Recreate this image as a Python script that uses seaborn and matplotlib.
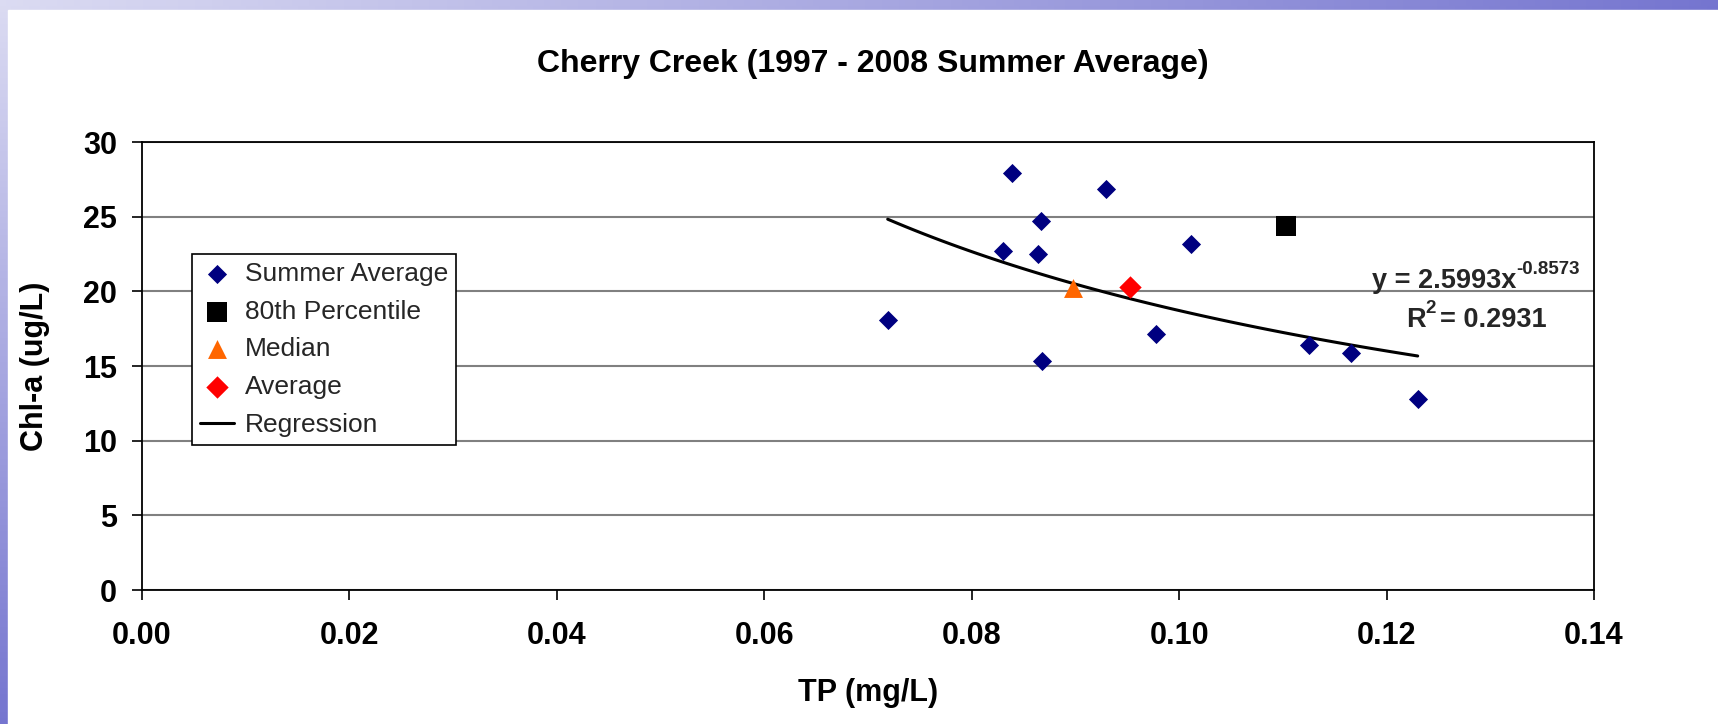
import numpy as np
import pandas as pd
import matplotlib
matplotlib.use("Agg")
import matplotlib.pyplot as plt
import seaborn as sns
from matplotlib.patches import Rectangle

# ---------------- data ----------------
title = "Cherry Creek (1997 - 2008 Summer Average)"
x_label = "TP (mg/L)"
y_label = "Chl-a (ug/L)"

summer_tp = [0.0719, 0.0839, 0.0830, 0.0867, 0.0864, 0.0868,
             0.0929, 0.0978, 0.1011, 0.1125, 0.1166, 0.1230]
summer_chla = [18.1, 27.9, 22.7, 24.7, 22.5, 15.35,
               26.85, 17.15, 23.2, 16.4, 15.85, 12.8]

p80_tp = [0.1103]
p80_chla = [24.35]
median_tp = [0.0898]
median_chla = [20.2]
average_tp = [0.0953]
average_chla = [20.27]

reg_coef = 2.5993
reg_exp = -0.8573
reg_r2 = 0.2931
reg_x_range = [0.0719, 0.1230]

series_labels = ["Summer Average", "80th Percentile", "Median", "Average", "Regression"]
x_ticks = [0.00, 0.02, 0.04, 0.06, 0.08, 0.10, 0.12, 0.14]
y_ticks = [0, 5, 10, 15, 20, 25, 30]

# ---------------- style ----------------
sns.set_theme(style="white")
plt.rcParams["font.family"] = ["Liberation Sans", "DejaVu Sans"]

W, H = 1718, 724
fig = plt.figure(figsize=(W / 100, H / 100), dpi=100)

# slide-like background: gradient border with white panel
bg = fig.add_axes([0, 0, 1, 1], zorder=-10)
xf = np.linspace(0, 1, 300)[None, :]
yf = np.linspace(1, 0, 120)[:, None]
t = np.clip(0.8 * xf + 0.8 * (1 - yf), 0, 1)
light = np.array([0.86, 0.86, 0.95])
dark = np.array([0.36, 0.36, 0.78])
grad = light[None, None, :] * (1 - t[..., None]) + dark[None, None, :] * t[..., None]
bg.imshow(grad, extent=[0, 1, 0, 1], aspect="auto", origin="upper")
bg.add_patch(Rectangle((8 / W, 0), 1, 1 - 10 / H, color="white", transform=bg.transAxes))
bg.set_xlim(0, 1)
bg.set_ylim(0, 1)
bg.axis("off")

# plot area
left, right, top, bottom = 142, 1594, 142, 590
ax = fig.add_axes([left / W, (H - bottom) / H, (right - left) / W, (bottom - top) / H])
ax.set_facecolor("white")

sns.scatterplot(x=summer_tp, y=summer_chla, marker="D", s=95, color="#000080",
                linewidth=0, ax=ax, label=series_labels[0], zorder=4)
sns.scatterplot(x=p80_tp, y=p80_chla, marker="s", s=215, color="black",
                linewidth=0, ax=ax, label=series_labels[1], zorder=4)
sns.scatterplot(x=median_tp, y=median_chla, marker="^", s=185, color="#FF6600",
                linewidth=0, ax=ax, label=series_labels[2], zorder=4)
sns.scatterplot(x=average_tp, y=average_chla, marker="D", s=130, color="#FF0000",
                linewidth=0, ax=ax, label=series_labels[3], zorder=4)

reg_x = np.linspace(reg_x_range[0], reg_x_range[1], 60)
reg_df = pd.DataFrame({"x": reg_x, "y": reg_coef * reg_x ** reg_exp})
sns.lineplot(data=reg_df, x="x", y="y", color="black", linewidth=2.2, ax=ax,
             label=series_labels[4], estimator=None, sort=False, zorder=3)

ax.set_xlim(0, 0.14)
ax.set_ylim(0, 30)
ax.set_xticks(x_ticks)
ax.set_xticklabels([f"{v:.2f}" for v in x_ticks])
ax.set_yticks(y_ticks)
ax.set_yticklabels([f"{v}" for v in y_ticks])
ax.tick_params(axis="both", which="major", direction="out", length=7, width=1.2,
               color="black", labelsize=22, labelcolor="black")
ax.tick_params(axis="x", pad=15)
ax.tick_params(axis="y", pad=11)
for lab in ax.get_xticklabels() + ax.get_yticklabels():
    lab.set_fontweight("bold")
ax.xaxis.set_ticks_position("bottom")
ax.yaxis.set_ticks_position("left")

ax.yaxis.grid(True, color="#808080", linewidth=1.5)
ax.xaxis.grid(False)
ax.set_axisbelow(True)
for sp in ax.spines.values():
    sp.set_visible(True)
    sp.set_color("black")
    sp.set_linewidth(1.3)

ax.set_xlabel(x_label, fontsize=22, fontweight="bold", color="black")
ax.set_ylabel(y_label, fontsize=22, fontweight="bold", color="black")
ax.xaxis.set_label_coords(0.5, -0.23)
ax.xaxis.label.set_va("center")
ax.yaxis.set_label_coords(-0.074, 0.5)
ax.yaxis.label.set_va("center")

ax.set_title(title, fontsize=23, fontweight="bold", color="black",
             x=(873 - left) / (right - left), y=(bottom - 64) / (bottom - top),
             va="center", pad=0)

# regression equation
eq_main = ax.text(0.11857, 20.23, "y = %.4fx" % reg_coef, fontsize=19.5,
                  fontweight="bold", va="baseline", ha="left", zorder=5)
ax.annotate("%.4f" % reg_exp, xy=(1.0, 0.62), xycoords=eq_main, fontsize=13.5,
            fontweight="bold", va="bottom", ha="left", zorder=5)
r2_main = ax.text(0.12188, 17.6, "R", fontsize=19.5,
                  fontweight="bold", va="baseline", ha="left", zorder=5)
r2_sup = ax.annotate("2", xy=(1.0, 0.62), xycoords=r2_main, fontsize=13.5,
                     fontweight="bold", va="bottom", ha="left", zorder=5)
ax.annotate("= %.4f" % reg_r2, xy=(1.0, 0.0), xycoords=(r2_sup, r2_main),
            xytext=(3, 0), textcoords="offset points",
            fontsize=19.5, fontweight="bold", va="bottom", ha="left", zorder=5)

handles, labels = ax.get_legend_handles_labels()
leg = ax.legend(handles, labels, loc="upper left", bbox_to_anchor=(0.0344, 0.75),
                borderaxespad=0, frameon=True, fancybox=False, framealpha=1,
                edgecolor="black", fontsize=19, labelspacing=0.52,
                handlelength=1.3, handletextpad=0.4, borderpad=0.3)
leg.get_frame().set_linewidth(1.2)

fig.savefig("out.png", dpi=100)
